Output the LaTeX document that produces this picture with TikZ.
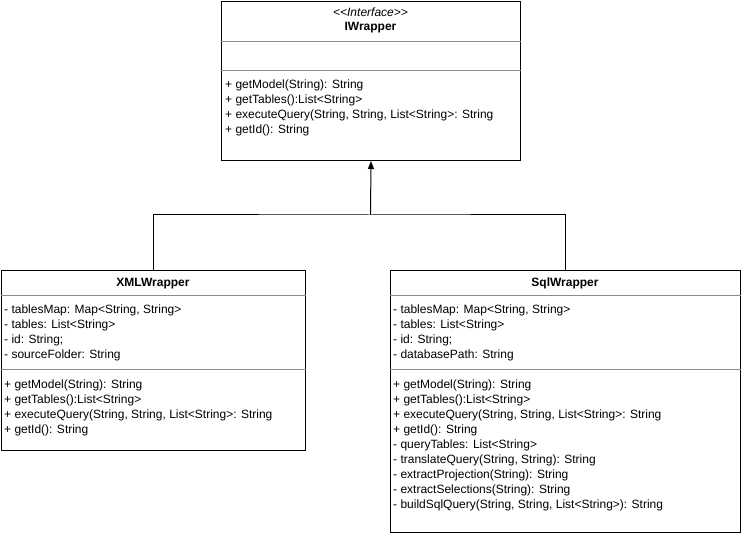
\documentclass[tikz,border=0pt]{standalone}
\usepackage{fontspec}
\setmainfont{Liberation Sans}
\usetikzlibrary{positioning, arrows.meta}

\tikzset{
  classbox/.style={draw, line width=1pt, anchor=north west, inner sep=0pt},
  compart/.style={draw=black!45, line width=1pt},
  member/.style={anchor=base west, inner sep=0pt},
  classname/.style={anchor=base, inner sep=0pt, font=\fontsize{12}{15}\selectfont\bfseries}
}

\begin{document}
\begin{tikzpicture}
	[x=1pt, y=-1pt, font=\fontsize{12}{15}\selectfont]
   \useasboundingbox (0,0) rectangle (742,534);

   % interface
   \node[classbox, minimum width=299pt, minimum height=159pt] (iw) at (221,1) {};
   \node[anchor=base, inner sep=0pt, font=\fontsize{12}{15}\selectfont\itshape] (iwstereo) at (370.5,16.5) {<{}<Interface>{}>};
   \node[classname] (iwname) at (370.5,30.5) {IWrapper};
   \draw[compart] (iw.west |- 0,42) -- (iw.east |- 0,42);
   \draw[compart] (iw.west |- 0,71) -- (iw.east |- 0,71);
   \foreach \m [count=\i] in {{+ getModel(String): String}, {+ getTables():List<String>},
       {+ executeQuery(String, String, List<String>: String}, {+ getId(): String}}
     \node[member] (iwop\i) at (225,73.5+15*\i) {\m};

   % XMLWrapper
   \node[classbox, minimum width=304pt, minimum height=180pt] (xml) at (1,270) {};
   \node[classname] (xmlname) at (153,286.5) {XMLWrapper};
   \draw[compart] (xml.west |- 0,296) -- (xml.east |- 0,296);
   \draw[compart] (xml.west |- 0,370) -- (xml.east |- 0,370);
   \foreach \m [count=\i] in {{- tablesMap: Map<String, String>}, {- tables: List<String>},
       {- id: String;}, {- sourceFolder: String}}
     \node[member] (xmlattr\i) at (4,299+15*\i) {\m};
   \foreach \m [count=\i] in {{+ getModel(String): String}, {+ getTables():List<String>},
       {+ executeQuery(String, String, List<String>: String}, {+ getId(): String}}
     \node[member] (xmlop\i) at (4,373.5+15*\i) {\m};

   % SqlWrapper
   \node[classbox, minimum width=350pt, minimum height=262pt] (sql) at (390,270) {};
   \node[classname] (sqlname) at (565,286.5) {SqlWrapper};
   \draw[compart] (sql.west |- 0,296) -- (sql.east |- 0,296);
   \draw[compart] (sql.west |- 0,370) -- (sql.east |- 0,370);
   \foreach \m [count=\i] in {{- tablesMap: Map<String, String>}, {- tables: List<String>},
       {- id: String;}, {- databasePath: String}}
     \node[member] (sqlattr\i) at (393,299+15*\i) {\m};
   \foreach \m [count=\i] in {{+ getModel(String): String}, {+ getTables():List<String>},
       {+ executeQuery(String, String, List<String>: String}, {+ getId(): String},
       {- queryTables: List<String>}, {- translateQuery(String, String): String},
       {- extractProjection(String): String}, {- extractSelections(String): String},
       {- buildSqlQuery(String, String, List<String>): String}}
     \node[member] (sqlop\i) at (393,373.5+15*\i) {\m};

   % realization
   \coordinate (bus) at (370.5,215);
   \draw[line width=1pt] (xml.north) |- (bus) -| (sql.north);
   \draw[line width=1pt, -{Triangle[width=6pt,length=8pt]}] (bus) -- (iw.south);

\end{tikzpicture}
\end{document}
